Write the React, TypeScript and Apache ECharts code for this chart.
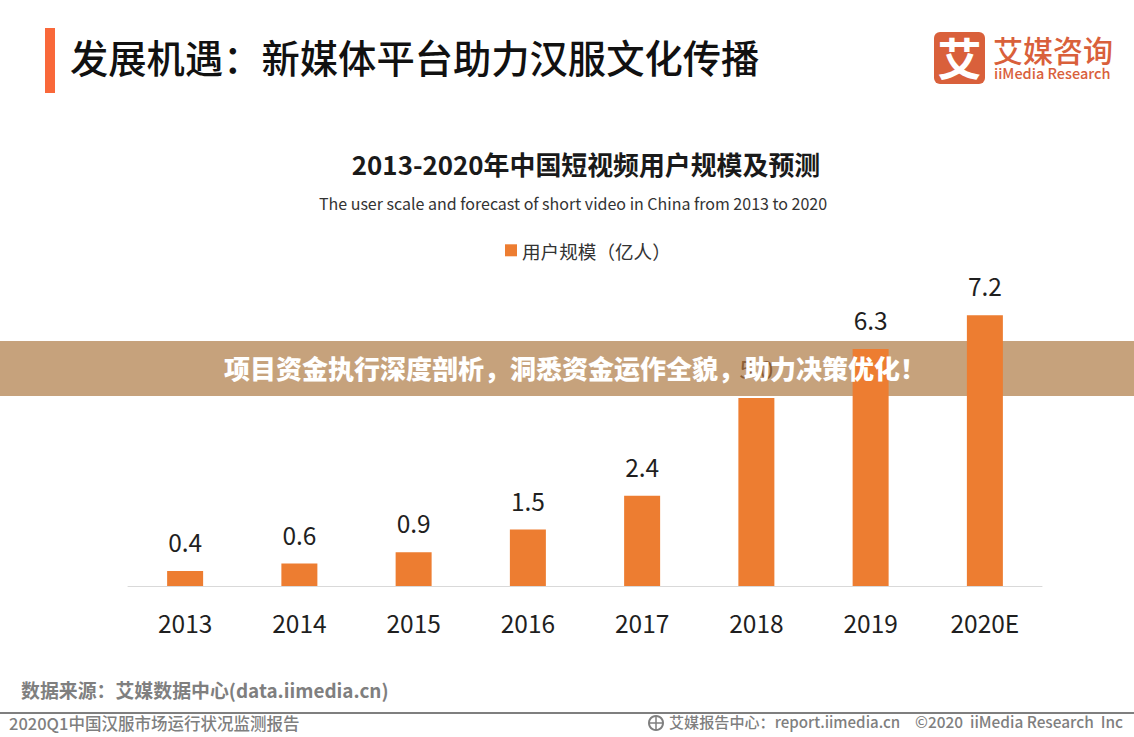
import React, { useEffect, useRef } from "react";
import * as echarts from "echarts";

const categories = ["2013", "2014", "2015", "2016", "2017", "2018", "2019", "2020E"];
const values = [0.4, 0.6, 0.9, 1.5, 2.4, 5.0, 6.3, 7.2];
const seriesName = "用户规模（亿人）";
const CJK = '"Noto Sans CJK SC", "Noto Sans", sans-serif';
const LOGO_RED = "#D9603B";
const GREY = "#7F7F7F";

export default function App() {
  const ref = useRef<HTMLDivElement>(null);
  useEffect(() => {
    const chart = echarts.init(ref.current!, undefined, { renderer: "svg" });
    const txt = (x: number, y: number, text: string, fontSize: number, fill: string, fontWeight: any = "normal", extra: any = {}) => ({
      type: "text", x, y, z: 20,
      style: { text, fontSize, fill, fontWeight, fontFamily: CJK, textVerticalAlign: "middle", ...extra },
    });
    chart.setOption({
      animation: false,
      backgroundColor: "#ffffff",
      title: [
        {
          text: "2013-2020年中国短视频用户规模及预测",
          left: 581, top: 146, textAlign: "center",
          textStyle: { fontFamily: CJK, fontSize: 25.9, fontWeight: "bold", color: "#1a1a1a" },
        },
        {
          text: "The user scale and forecast of short video in China from 2013 to 2020",
          left: 568, top: 190, textAlign: "center",
          textStyle: { fontFamily: CJK, fontSize: 16, fontWeight: "normal", color: "#333333" },
        },
      ],
      legend: {
        data: [seriesName], left: 500, top: 236, itemWidth: 12, itemHeight: 12, itemGap: 6,
        icon: "rect",
        textStyle: { fontFamily: CJK, fontSize: 18.6, color: "#333333" },
      },
      grid: { left: 128, right: 92, top: 270, bottom: 151, containLabel: false },
      xAxis: {
        type: "category", data: categories,
        axisLine: { lineStyle: { color: "#D9D9D9", width: 1 } },
        axisTick: { show: false },
        axisLabel: { fontFamily: CJK, fontSize: 24.5, color: "#1f1f1f", margin: 24 },
      },
      yAxis: { type: "value", min: 0, max: 8.4, show: false, splitLine: { show: false } },
      series: [{
        name: seriesName, type: "bar", data: values.map((value, i) => i === 5
          ? { value, label: { color: "rgba(120,72,30,0.75)" } } : value),
        barWidth: 36, z: 5,
        itemStyle: { color: "#ED7D31" },
        label: {
          show: true, position: "top", distance: 17,
          formatter: (p: any) => Number(p.value).toFixed(1),
          fontFamily: CJK, fontSize: 24.5, color: "#1f1f1f",
        },
      }],
      graphic: [
        { type: "rect", z: 20, shape: { x: 45, y: 28, width: 10, height: 65 }, style: { fill: "#F9683A" } },
        txt(70, 56, "发展机遇：新媒体平台助力汉服文化传播", 38.3, "#111111", 500),
        { type: "rect", z: 20, shape: { x: 934, y: 32, width: 51, height: 52, r: 6 }, style: { fill: LOGO_RED } },
        txt(959.5, 57, "艾", 44, "#ffffff", "bold", { textAlign: "center" }),
        txt(993, 49, "艾媒咨询", 30, LOGO_RED, 500),
        txt(994, 72, "iiMedia Research", 14.5, LOGO_RED, 500),
        { type: "rect", z: 0, shape: { x: 0, y: 341, width: 1134, height: 55 }, style: { fill: "#C6A27C" } },
        txt(224, 367, "项目资金执行深度剖析，洞悉资金运作全貌，助力决策优化！", 26, "#ffffff", 900),
        txt(21, 689, "数据来源：艾媒数据中心(data.iimedia.cn)", 18.9, GREY, "bold"),
        { type: "rect", z: 20, shape: { x: 0, y: 712, width: 1134, height: 2 }, style: { fill: GREY } },
        txt(9, 723, "2020Q1中国汉服市场运行状况监测报告", 16.5, GREY, 500),
        { type: "circle", z: 20, shape: { cx: 656, cy: 723, r: 7 }, style: { fill: "none", stroke: GREY, lineWidth: 2 } },
        { type: "line", z: 20, shape: { x1: 649, y1: 723, x2: 663, y2: 723 }, style: { stroke: GREY, lineWidth: 1.5 } },
        { type: "line", z: 20, shape: { x1: 656, y1: 716, x2: 656, y2: 730 }, style: { stroke: GREY, lineWidth: 1.5 } },
        txt(669, 721, "艾媒报告中心：report.iimedia.cn", 15.1, GREY, 500),
        txt(915, 721, "©2020  iiMedia Research  Inc", 15.4, GREY, 500),
      ],
    });
    return () => chart.dispose();
  }, []);
  return <div ref={ref} style={{ width: 1134, height: 737, position: "absolute", left: 0, top: 0 }} />;
}
